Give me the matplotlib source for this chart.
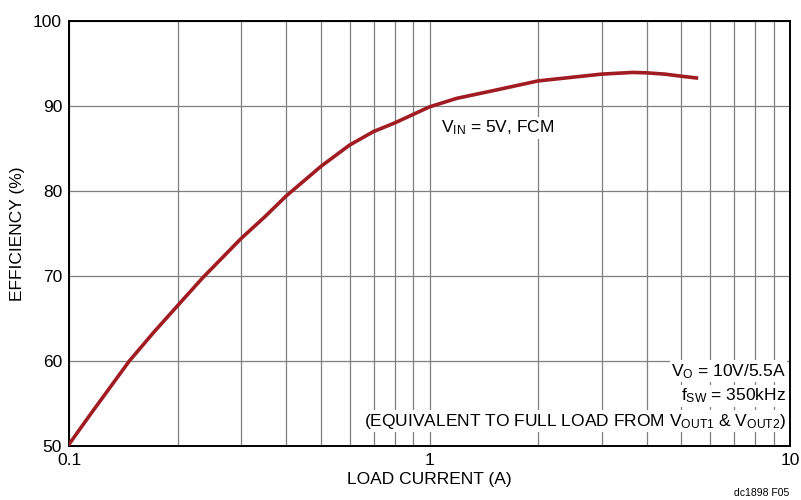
import numpy as np
import matplotlib
matplotlib.use("Agg")
from matplotlib import pyplot as plt
from matplotlib.ticker import FixedLocator, NullFormatter

plt.rcParams['font.family'] = ['Liberation Sans', 'DejaVu Sans']
plt.rcParams['mathtext.fontset'] = 'custom'
plt.rcParams['mathtext.rm'] = 'Liberation Sans'
plt.rcParams['mathtext.it'] = 'Liberation Sans'
plt.rcParams['mathtext.default'] = 'rm'

# efficiency curve
load_a = [0.1, 0.115, 0.147, 0.172, 0.2, 0.235, 0.3, 0.35, 0.4, 0.5, 0.6,
          0.7, 0.8, 0.9, 1.0, 1.19, 1.5, 2.0, 3.0, 3.66, 4.0, 4.5, 5.0, 5.5]
eff_pct = [50.2, 53.8, 60.0, 63.4, 66.5, 69.8, 74.4, 77.0, 79.4, 82.9, 85.4,
           87.0, 88.0, 89.0, 89.9, 90.9, 91.8, 92.95, 93.75, 93.95, 93.9, 93.75,
           93.5, 93.3]

x_ticks = [0.1, 1, 10]
x_ticklabels = ["0.1", "1", "10"]
y_ticks = [50, 60, 70, 80, 90, 100]

fig = plt.figure(figsize=(8.01, 5.0), dpi=100)
ax = fig.add_axes([69 / 801, 54 / 500, 721 / 801, 425 / 500])

ax.set_xscale("log")
ax.set_xlim(0.1, 10)
ax.set_ylim(50, 100)

minors = [m * d for d in (0.1, 1) for m in range(2, 10)]
ax.xaxis.set_major_locator(FixedLocator(x_ticks))
ax.xaxis.set_minor_locator(FixedLocator(minors))
ax.xaxis.set_minor_formatter(NullFormatter())
ax.set_xticks(x_ticks)
ax.set_xticklabels(x_ticklabels)
ax.set_yticks(y_ticks)
ax.tick_params(which="both", length=0, labelsize=12.5, pad=5)

ax.grid(True, which="both", color="#7f7f7f", linewidth=0.9)
ax.set_axisbelow(True)
for s in ax.spines.values():
    s.set_linewidth(1.4)

ax.plot(load_a, eff_pct, color="#a01c22", linewidth=2.6, zorder=3)

ax.set_xlabel("LOAD CURRENT (A)", fontsize=12.5, labelpad=3)
ax.set_ylabel("EFFICIENCY (%)", fontsize=12.5, labelpad=6)

box = dict(facecolor="white", edgecolor="none", pad=1.0)
ax.text(1.545, 87.4, r"V$_{\mathrm{IN}}$ = 5V, FCM", fontsize=12.5, ha="center", va="center",
        bbox=box, zorder=4)
right_lines = [
    (58.8, "V$_{\\mathrm{O}}$ = 10V/5.5A"),
    (55.9, "f$_{\\mathrm{SW}}$ = 350kHz"),
    (52.9, "(EQUIVALENT TO FULL LOAD FROM V$_{\\mathrm{OUT1}}$ & V$_{\\mathrm{OUT2}}$)"),
]
for yv, s in right_lines:
    ax.text(9.75, yv, s, fontsize=12.5, ha="right", va="center", bbox=box, zorder=4)

fig.text(789 / 801, 7 / 500, "dc1898 F05", fontsize=7.5, ha="right", va="center")

fig.savefig("out.png", dpi=100)
